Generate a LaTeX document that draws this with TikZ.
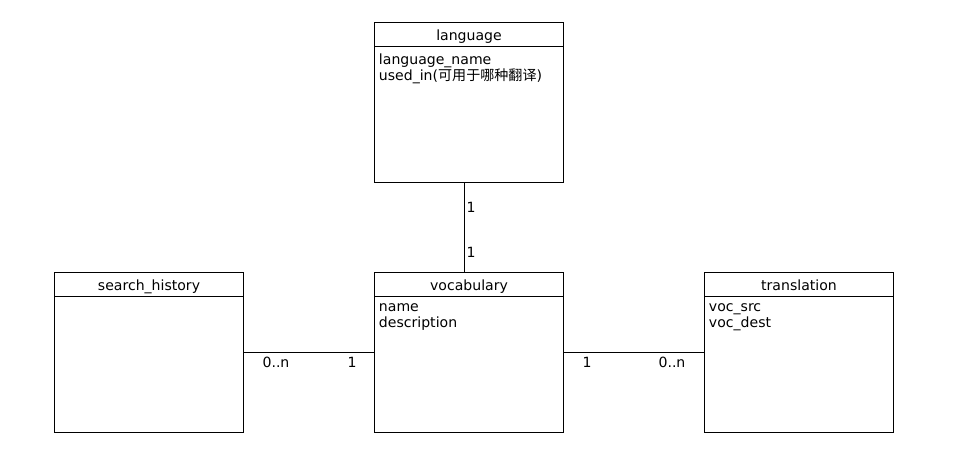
\documentclass[tikz,border=0pt]{standalone}
\usepackage{fontspec}
\setmainfont{DejaVu Sans}
\newfontfamily\cjk{Noto Sans CJK SC}
\begin{document}
\begin{tikzpicture}[x=0.025cm, y=-0.025cm, line width=0.7pt,
    classbox/.style={draw, minimum width=4.7cm, minimum height=3.975cm, inner sep=0pt},
    classtitle/.style={anchor=base, inner sep=0pt, font=\fontsize{10}{12}\selectfont},
    classfields/.style={anchor=north west, align=left, inner sep=0pt,
        font=\fontsize{10}{11.7}\selectfont},
    mult/.style={inner sep=0pt, font=\fontsize{10}{12}\selectfont}]
    \useasboundingbox (0,0) rectangle (973,454);

    % Classes
    \node[classbox] (language) at (469,102.5) {};
    \node[classbox] (history) at (149,352.5) {};
    \node[classbox] (vocabulary) at (469,352.5) {};
    \node[classbox] (translation) at (799,352.5) {};

    % Title rows
    \foreach \c/\t in {language/language, history/search\_history,
        vocabulary/vocabulary, translation/translation} {
        \draw ([yshift=-0.6cm]\c.north west) -- ([yshift=-0.6cm]\c.north east);
        \node[classtitle] (\c title) at ([yshift=-0.45cm]\c.north) {\t};
    }

    % Fields
    \node[classfields] (languagefields) at ([xshift=0.1cm, yshift=-0.76cm]language.north west)
        {language\_name\\used\_in({\cjk 可用于哪种翻译})};
    \node[classfields] (vocabularyfields) at ([xshift=0.1cm, yshift=-0.76cm]vocabulary.north west)
        {name\\description};
    \node[classfields] (translationfields) at ([xshift=0.1cm, yshift=-0.76cm]translation.north west)
        {voc\_src\\voc\_dest};

    % Associations
    \draw ([xshift=-0.1125cm]language.south) -- ([xshift=-0.1125cm]vocabulary.north);
    \draw (history.east) -- (vocabulary.west);
    \draw (vocabulary.east) -- (translation.west);

    % Multiplicities
    \node[mult] (m1) at (471,207) {1};
    \node[mult] (m2) at (471,252) {1};
    \node[mult] (m3) at (276,362) {0..n};
    \node[mult] (m4) at (352,362) {1};
    \node[mult] (m5) at (587,362) {1};
    \node[mult] (m6) at (672,362) {0..n};
\end{tikzpicture}
\end{document}
